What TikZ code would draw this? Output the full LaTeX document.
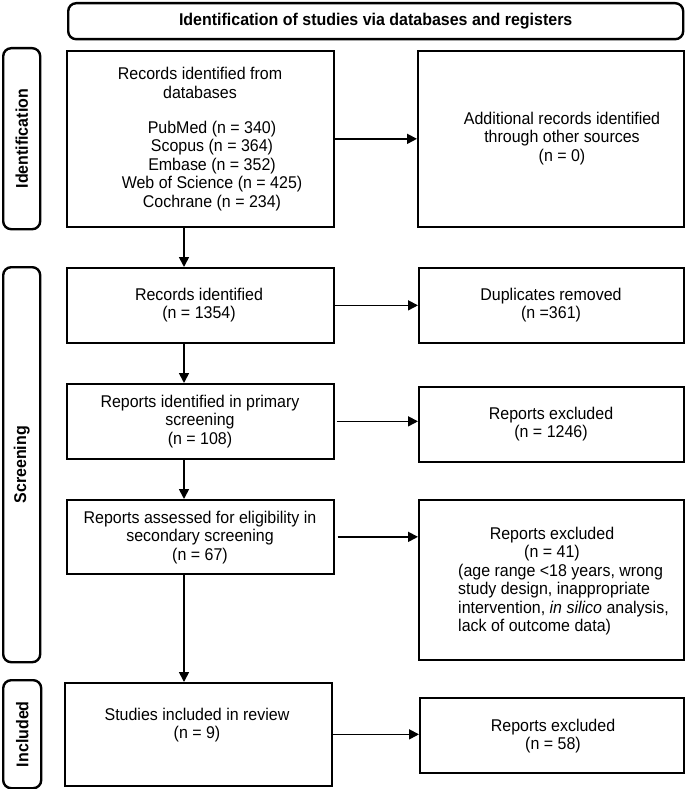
\documentclass[tikz,border=0pt]{standalone}
\usepackage{fontspec}
\setmainfont[FakeStretch=0.94]{Liberation Sans}
\usetikzlibrary{arrows.meta}
\begin{document}
\begin{tikzpicture}[x=1pt,y=-1pt,
  box/.style={draw, line width=1.7pt, inner sep=0pt, anchor=north west},
  sidebox/.style={draw, line width=2.4pt, rounded corners=8pt, inner sep=0pt, anchor=north west},
  txt/.style={align=center, font=\fontsize{17}{18.5}\selectfont, inner sep=0pt},
  ltxt/.style={align=left, font=\fontsize{17}{18.5}\selectfont, inner sep=0pt},
  btxt/.style={font=\fontsize{17}{18.5}\selectfont\bfseries, inner sep=0pt},
  arr/.style={line width=1.7pt, -{Triangle[length=10pt,width=10pt]}}]
\useasboundingbox (0,0) rectangle (685,789);
% header and side labels
\node[sidebox, minimum width=615pt, minimum height=36pt] (head) at (67,2) {};
\node[sidebox, minimum width=37pt, minimum height=181pt] (idlab) at (2,47) {};
\node[sidebox, minimum width=37pt, minimum height=395pt] (scrlab) at (2,266) {};
\node[sidebox, minimum width=38pt, minimum height=108pt] (inclab) at (2,679) {};
\node[btxt] (headtxt) at (head.center) {Identification of studies via databases and registers};
\node[btxt, rotate=90] (idtxt) at (idlab.center) {Identification};
\node[btxt, rotate=90] (scrtxt) at (scrlab.center) {Screening};
\node[btxt, rotate=90] (inctxt) at (inclab.center) {Included};
% boxes
\node[box, minimum width=267pt, minimum height=176pt] (rec) at (66,50) {};
\node[box, minimum width=266pt, minimum height=176pt] (add) at (417,50) {};
\node[box, minimum width=267pt, minimum height=75pt] (recid) at (66,267) {};
\node[box, minimum width=265pt, minimum height=75pt] (dup) at (418,267) {};
\node[box, minimum width=267pt, minimum height=75pt] (prim) at (66,383) {};
\node[box, minimum width=265pt, minimum height=75pt] (ex1) at (418,386) {};
\node[box, minimum width=267pt, minimum height=74pt] (assess) at (66,499) {};
\node[box, minimum width=265pt, minimum height=160pt] (ex2) at (418,499) {};
\node[box, minimum width=267pt, minimum height=103pt] (stud) at (64,682) {};
\node[box, minimum width=264pt, minimum height=75pt] (ex3) at (419,697) {};
% texts
\node[txt] (rectitle) at (200,83) {Records identified from\\databases};
\node[txt] (reclist) at (212,166) {PubMed (n = 340)\\Scopus (n = 364)\\Embase (n = 352)\\Web of Science (n = 425)\\Cochrane (n = 234)};
\node[txt] (addtxt) at (562,138.5) {Additional records identified\\through other sources\\(n = 0)};
\node[txt] (recidtxt) at (199,305) {Records identified\\(n = 1354)};
\node[txt] (duptxt) at (551,305) {Duplicates removed\\(n =361)};
\node[txt] (primtxt) at (200,421.5) {Reports identified in primary\\screening\\(n = 108)};
\node[txt] (ex1txt) at (551,424) {Reports excluded\\(n = 1246)};
\node[txt] (assesstxt) at (200,537.5) {Reports assessed for eligibility in\\secondary screening\\(n = 67)};
\node[txt] (ex2a) at (552,544) {Reports excluded\\(n = 41)};
\node[ltxt, anchor=west] (ex2b) at (458,599.5) {(age range <18 years, wrong\\study design, inappropriate\\intervention, \textit{in silico} analysis,\\lack of outcome data)};
\node[txt] (studtxt) at (197,725) {Studies included in review\\(n = 9)};
\node[txt] (ex3txt) at (553,736) {Reports excluded\\(n = 58)};
% connectors
\coordinate (cx) at (184,0);
\draw[arr] (rec.east) -- (add.west);
\draw[arr] (recid.east) -- (dup.west);
\draw[arr] (prim.east) ++(2,0) -- (prim.east -| ex1.west);
\draw[arr] (assess.east) ++(3,0) -- (assess.east -| ex2.west);
\draw[arr] (stud.east) -- (stud.east -| ex3.west);
\draw[arr] (rec.south -| cx) -- (recid.north -| cx);
\draw[arr] (recid.south -| cx) -- (prim.north -| cx);
\draw[arr] (prim.south -| cx) -- (assess.north -| cx);
\draw[arr] (assess.south -| cx) -- (stud.north -| cx);
\end{tikzpicture}
\end{document}
